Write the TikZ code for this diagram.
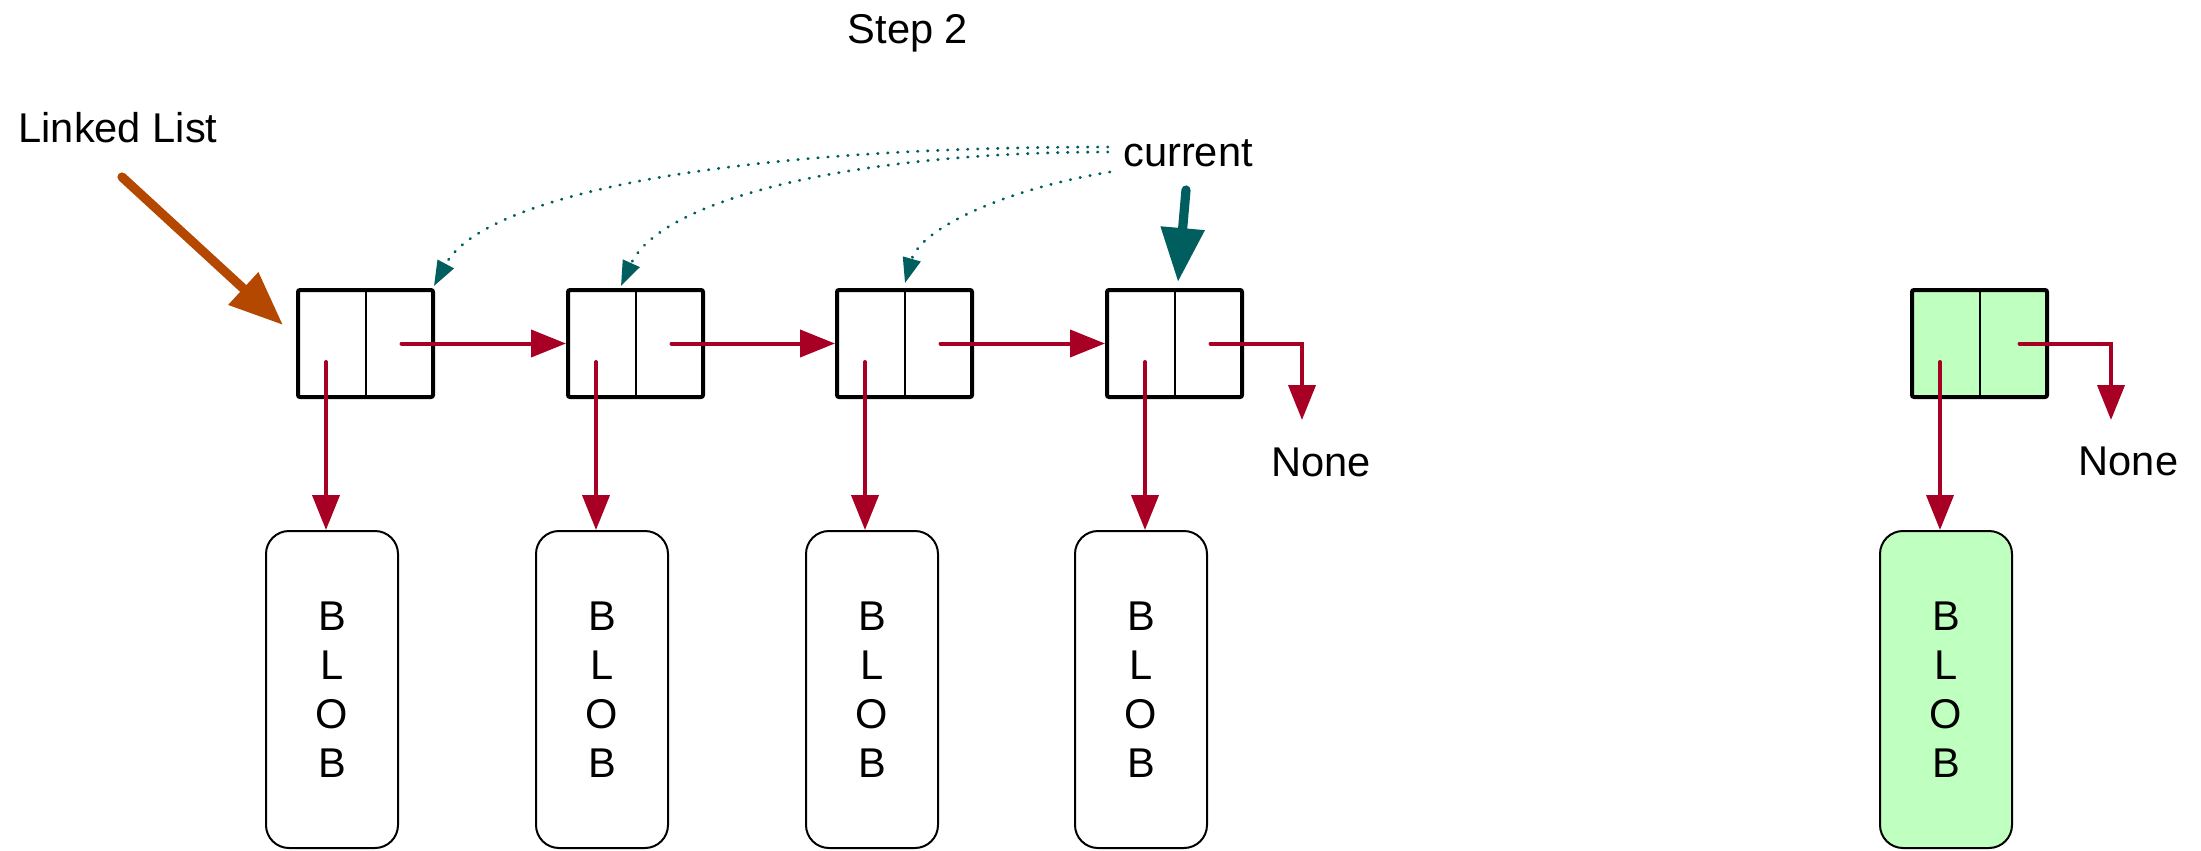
\documentclass[tikz,border=0pt]{standalone}
\usepackage{fontspec}
\setmainfont{Liberation Sans}
\usetikzlibrary{arrows.meta}
\definecolor{ptrred}{RGB}{168,0,36}
\definecolor{headorange}{RGB}{180,72,0}
\definecolor{curteal}{RGB}{0,94,94}
\definecolor{newgreen}{RGB}{191,255,192}

\begin{document}
\begin{tikzpicture}[x=0.5pt,y=-0.5pt,
  every node/.style={font=\fontsize{20.8}{24.5}\selectfont, inner sep=0pt},
  cell/.style={draw, line width=2pt, minimum width=67.5pt, minimum height=53.5pt, rounded corners=1pt},
  divider/.style={line width=1pt},
  blob/.style={draw, line width=1pt, rounded corners=11.5pt, minimum width=66pt, minimum height=158.5pt, align=center},
  ptr/.style={draw=ptrred, line width=2pt, line cap=round, -{Triangle[length=17.5pt,width=13.5pt]}},
  bigarrow/.style={line width=4.6pt, line cap=round, -{Triangle[length=27pt,width=21pt]}},
  dotarrow/.style={draw=curteal, line width=1.4pt, line cap=round, dash pattern=on 0.3pt off 4.7pt, -{Triangle[length=12.5pt,width=9pt]}}
]
\useasboundingbox (0,0) rectangle (2201,851);

% labels
\node[anchor=base] (title) at (908,43) {Step 2};
\node[anchor=base] (ll) at (118,142.7) {Linked List};
\node[anchor=base] (cur) at (1188,166.7) {current};

% list nodes and their blobs
\foreach \i/\x/\bx/\dx in {1/365.5/332/326, 2/635.5/602/596, 3/904.5/872/865, 4/1174.5/1141/1145}{
  \node[cell] (n\i) at (\x,343.5) {};
  \draw[divider] (n\i.north) -- (n\i.south);
  \node[blob] (b\i) at (\bx,689.5) {B\\L\\O\\B};
  \coordinate (s\i) at ([shift={(36,0)}]n\i.center);
  \coordinate (d\i) at (\dx,362);
  \draw[ptr] (d\i) -- (d\i |- b\i.north);
}

% next pointers
\draw[ptr] (s1) -- (n2.west);
\draw[ptr] (s2) -- (n3.west);
\draw[ptr] (s3) -- (n4.west);

\node[anchor=base] (none4) at (1321,476) {None};
\coordinate (e4) at (1302,420);
\draw[ptr] (s4) -| (e4);

% detached node
\node[cell, fill=newgreen] (g) at (1979.5,343.5) {};
\draw[divider] (g.north) -- (g.south);
\node[blob, fill=newgreen] (gb) at (1946,689.5) {B\\L\\O\\B};
\coordinate (gs) at ([shift={(40,0)}]g.center);
\coordinate (gd) at (1940,362);
\draw[ptr] (gd) -- (gd |- gb.north);
\node[anchor=base] (noneg) at (2128.5,475) {None};
\coordinate (ge) at (2111,420);
\draw[ptr] (gs) -| (ge);

% head pointer
\coordinate (lltail) at (122,177);
\draw[bigarrow, draw=headorange, fill=headorange] (lltail) -- ([shift={(-13,-18.5)}]n1.west);

% current pointer and its earlier positions
\coordinate (curtail) at (1186,190);
\draw[bigarrow, draw=curteal, fill=curteal] (curtail) -- ([shift={(3.5,-6)}]n4.north);

\coordinate (c1) at (1108,147);
\coordinate (c2) at (1108,152);
\coordinate (c3) at (1110,172);
\draw[dotarrow] (c1) .. controls (700,147) and (480,200) .. ([shift={(-1,-2)}]n1.north east);
\draw[dotarrow] (c2) .. controls (850,152) and (660,200) .. ([shift={(-14.5,-2)}]n2.north);
\draw[dotarrow] (c3) .. controls (1000,190) and (920,230) .. ([shift={(0.5,-5)}]n3.north);
\end{tikzpicture}
\end{document}
